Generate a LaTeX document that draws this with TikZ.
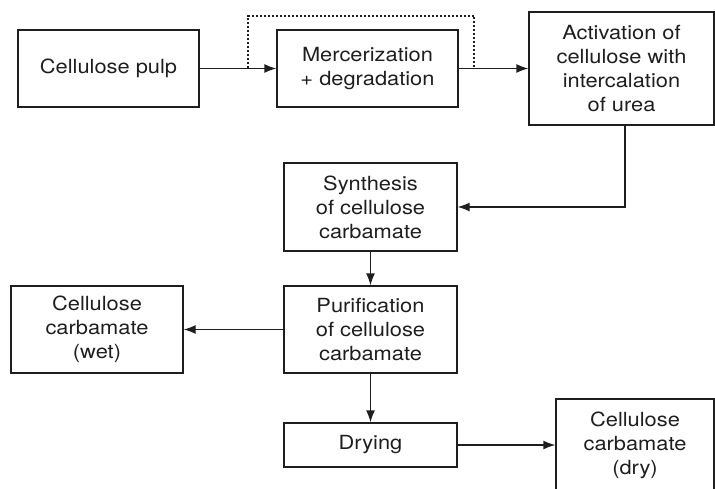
\documentclass[tikz,border=0pt]{standalone}
\usepackage{fontspec}
\setmainfont[FakeStretch=1.12]{TeX Gyre Heros}
\usepackage{xcolor}
\definecolor{Col1}{RGB}{30,30,30}
\usepackage{tikz}
\usetikzlibrary{arrows.meta}
\tikzstyle{Box}=[rectangle,draw=Col1,line width=1.3pt,inner sep=0pt,
align=center,text=Col1,font=\fontsize{19.5}{24}\selectfont]
\tikzstyle{Edge}=[draw=Col1,line width=1.3pt,-{Latex[length=12pt,width=9pt]}]
\tikzstyle{EdgeDot}=[draw=Col1,line width=1.2pt,dash pattern=on 2pt off 2pt]
\begin{document}
\begin{tikzpicture}[x=1pt,y=-1pt]
        \useasboundingbox(0,0)rectangle(715,489);
        \node[Box,minimum width=181pt,minimum height=77pt](1)at(108.5,68.5)
                {Cellulose pulp};
        \node[Box,minimum width=181pt,minimum height=77pt](2)at(367.5,68.5)
                {Mercerization\\+ degradation};
        \node[Box,minimum width=185pt,minimum height=113pt](3)at(621.5,68.5)
                {Activation of\\cellulose with\\intercalation\\of urea};
        \node[Box,minimum width=173pt,minimum height=88pt](4)at(370.5,207)
                {Synthesis\\of cellulose\\carbamate};
        \node[Box,minimum width=173pt,minimum height=87pt](5)at(370.5,329.5)
                {Purification\\of cellulose\\carbamate};
        \node[Box,minimum width=172pt,minimum height=87pt](6)at(97,329.5)
                {Cellulose\\carbamate\\(wet)};
        \node[Box,minimum width=173pt,minimum height=44pt](7)at(370.5,445)
                {Drying};
        \node[Box,minimum width=158pt,minimum height=92pt](8)at(635,445)
                {Cellulose\\carbamate\\(dry)};
        \draw[Edge](1)--(2);
        \draw[Edge](2)--(3);
        \coordinate(d1)at(248,68.5);
        \coordinate(d2)at(474,68.5);
        \draw[EdgeDot](d1)--++(0,-52.5)-|(d2);
        \coordinate(a)at(625,125);
        \draw[Edge](a)|-(4);
        \draw[Edge](4)--(5);
        \draw[Edge](5)--(6);
        \draw[Edge](5)--(7);
        \draw[Edge](7)--(8);
    \end{tikzpicture}
\end{document}
